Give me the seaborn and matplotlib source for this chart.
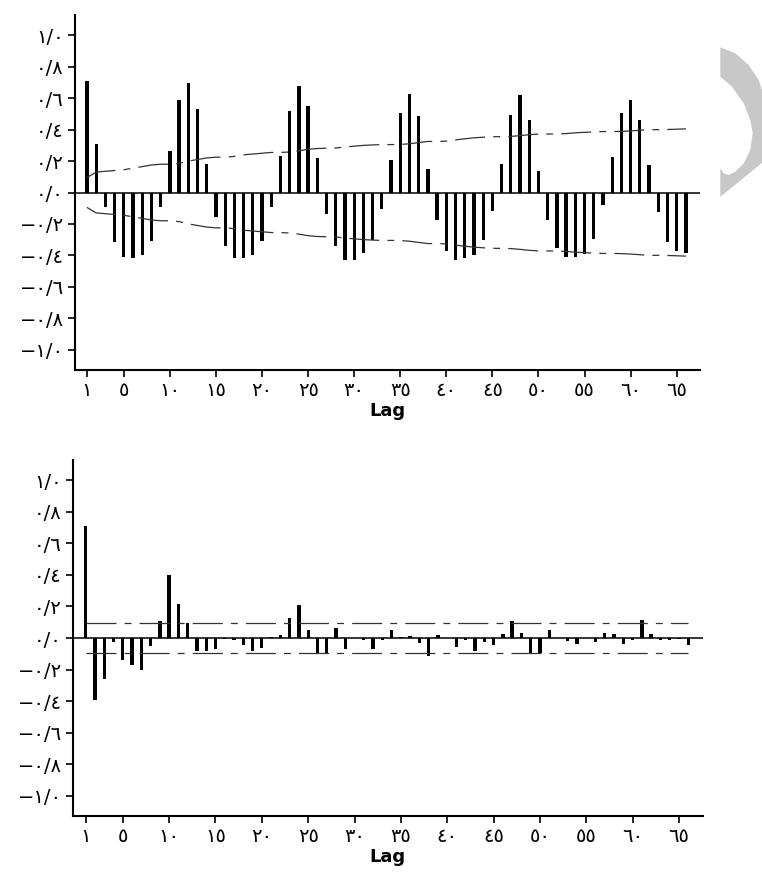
import matplotlib
matplotlib.use("Agg")
import matplotlib.pyplot as plt
from matplotlib.patches import Polygon
import seaborn as sns
import pandas as pd

# Lags 1..66
lags = list(range(1, 67))

# ACF values
acf = [0.71, 0.307, -0.095, -0.318, -0.409, -0.42, -0.40, -0.307, -0.095, 0.263,
       0.587, 0.697, 0.532, 0.184, -0.155, -0.341, -0.42, -0.42, -0.40, -0.307,
       -0.095, 0.231, 0.519, 0.676, 0.553, 0.218, -0.14, -0.341, -0.43, -0.43,
       -0.388, -0.30, -0.108, 0.206, 0.508, 0.629, 0.485, 0.148, -0.172, -0.371,
       -0.43, -0.42, -0.40, -0.303, -0.117, 0.184, 0.496, 0.619, 0.464, 0.138,
       -0.172, -0.356, -0.409, -0.409, -0.392, -0.297, -0.08, 0.227, 0.508, 0.587,
       0.464, 0.174, -0.127, -0.318, -0.371, -0.388]

# confidence limit of the ACF (drawn as +/-)
acf_band = [0.095, 0.13, 0.135, 0.14, 0.145, 0.155, 0.165, 0.175, 0.18, 0.18,
            0.185, 0.20, 0.21, 0.22, 0.225, 0.225, 0.23, 0.24, 0.245, 0.25,
            0.255, 0.255, 0.258, 0.265, 0.275, 0.28, 0.282, 0.283, 0.29, 0.295,
            0.30, 0.303, 0.305, 0.305, 0.306, 0.31, 0.318, 0.325, 0.325, 0.327,
            0.335, 0.342, 0.348, 0.352, 0.355, 0.356, 0.357, 0.362, 0.368, 0.372,
            0.372, 0.373, 0.375, 0.38, 0.383, 0.386, 0.388, 0.388, 0.389, 0.392,
            0.396, 0.40, 0.40, 0.401, 0.403, 0.405]

# partial ACF values
pacf = [0.709, -0.395, -0.262, -0.025, -0.137, -0.173, -0.205, -0.05, 0.105, 0.397,
        0.217, 0.093, -0.082, -0.082, -0.072, -0.005, -0.015, -0.046, -0.082, -0.061,
        0.005, 0.017, 0.129, 0.207, 0.051, -0.095, -0.095, 0.061, -0.072, 0.003,
        -0.015, -0.072, -0.012, 0.049, 0.004, 0.01, -0.03, -0.114, 0.017, 0.003,
        -0.057, -0.015, -0.082, -0.025, -0.042, 0.027, 0.105, 0.032, -0.095, -0.095,
        0.053, 0.003, -0.021, -0.036, 0.003, -0.025, 0.034, 0.027, -0.036, -0.015,
        0.112, 0.027, -0.015, -0.01, -0.008, -0.046]
pacf_band = [0.095] * len(lags)

x_ticks = [1, 5, 10, 15, 20, 25, 30, 35, 40, 45, 50, 55, 60, 65]
x_tick_labels = ["١", "٥", "١٠", "١٥", "٢٠", "٢٥", "٣٠", "٣٥", "٤٠", "٤٥",
                 "٥٠", "٥٥", "٦٠", "٦٥"]
y_ticks = [-1.0, -0.8, -0.6, -0.4, -0.2, 0.0, 0.2, 0.4, 0.6, 0.8, 1.0]
y_tick_labels = ["−١/٠", "−٠/٨", "−٠/٦", "−٠/٤", "−٠/٢", "٠/٠",
                 "٠/٢", "٠/٤", "٠/٦", "٠/٨", "١/٠"]

sns.set_style("ticks")
plt.rcParams["font.family"] = ["DejaVu Sans"]
plt.rcParams["text.color"] = "black"
plt.rcParams["axes.labelcolor"] = "black"
plt.rcParams["xtick.color"] = "black"
plt.rcParams["ytick.color"] = "black"

fig = plt.figure(figsize=(7.62, 8.84), dpi=100)
W, H = 762, 884


def px_axes(left, top, right, bottom):
    return fig.add_axes([left / W, 1 - bottom / H, (right - left) / W, (bottom - top) / H])


dash = (0, (24, 6.5, 5.5, 6.5))


def draw_panel(ax, vals, band, xlim):
    df = pd.DataFrame({"lag": lags, "value": vals})
    sns.barplot(data=df, x="lag", y="value", native_scale=True, width=0.36,
                color="black", saturation=1, errorbar=None, linewidth=0, ax=ax)
    bd = pd.DataFrame({"lag": lags, "up": band, "lo": [-b for b in band]})
    sns.lineplot(data=bd, x="lag", y="up", color="#333333", lw=0.9, ls=dash, ax=ax)
    sns.lineplot(data=bd, x="lag", y="lo", color="#333333", lw=0.9, ls=dash, ax=ax)
    ax.axhline(0, color="black", lw=1.1, zorder=3)
    ax.set_xlim(*xlim)
    ax.set_ylim(-1.13, 1.13)
    ax.set_xticks(x_ticks)
    ax.set_xticklabels(x_tick_labels, fontsize=14)
    ax.set_yticks(y_ticks)
    ax.set_yticklabels(y_tick_labels, fontsize=14)
    ax.set_xlabel("Lag", fontsize=13, fontweight="bold", labelpad=1, color="black")
    ax.set_ylabel("")
    ax.tick_params(length=5, width=1.2, pad=3, color="black", labelcolor="black")
    for s in ["left", "bottom"]:
        ax.spines[s].set_linewidth(1.5)
        ax.spines[s].set_color("black")
    sns.despine(ax=ax)


ax1 = px_axes(75, 15, 700, 370)
draw_panel(ax1, acf, acf_band, (-0.30, 67.53))

ax2 = px_axes(73, 460, 702.7, 816)
draw_panel(ax2, pacf, pacf_band, (-0.37, 67.56))

# grey crescent decoration at the top right of the page
outer = [(720.3, 47.3), (735.3, 53.3), (748.7, 65), (758.7, 80), (762, 90),
         (762, 163), (720.3, 196.7)]
inner = [(720.3, 168.3), (723.7, 173.3), (728.7, 175), (735.3, 171.7), (743.7, 163.3),
         (750.3, 150), (752.7, 133.3), (750.3, 120), (743.7, 103.3), (732, 86.7),
         (720.3, 76.7)]
pts = [(x / W, 1 - y / H) for x, y in outer + inner]
fig.patches.append(Polygon(pts, closed=True, transform=fig.transFigure,
                           facecolor="#c8c8c8", edgecolor="none"))

fig.savefig("out.png", dpi=100)
